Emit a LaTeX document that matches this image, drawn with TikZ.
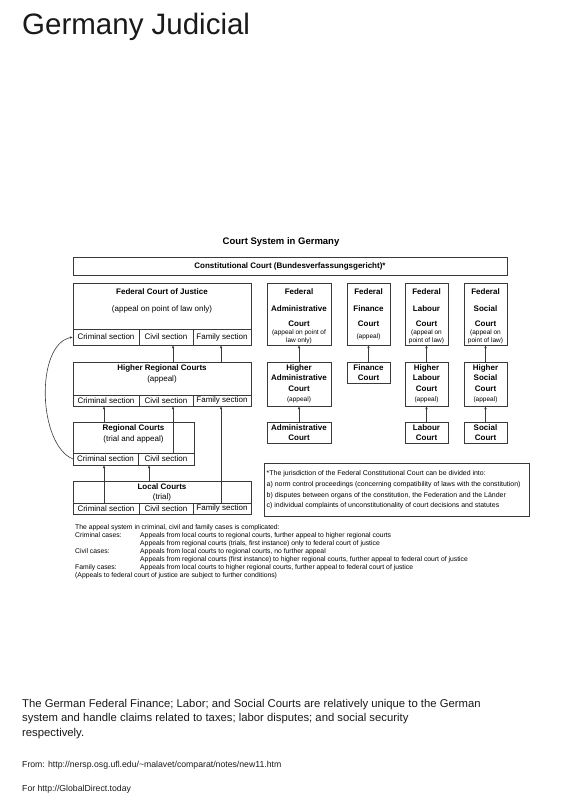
\documentclass[tikz,border=0pt]{standalone}
\usepackage{fontspec}
\setmainfont{Liberation Sans}
\usetikzlibrary{arrows.meta}
\definecolor{boxline}{HTML}{3A3A3A}
\definecolor{ink}{HTML}{1A1A1A}

\begin{document}
\begin{tikzpicture}[x=1pt,y=-1pt,
  box/.style={draw=boxline,line width=0.9pt,inner sep=0pt,outer sep=0pt,anchor=north west},
  boxt/.style={box,align=center,font=\fontsize{8}{10.5}\selectfont\bfseries},
  sect/.style={box,font=\fontsize{8}{10}\selectfont},
  lblb/.style={font=\fontsize{8}{10}\selectfont\bfseries,inner sep=0pt,text height=5.8pt,text depth=0pt},
  lbl/.style={font=\fontsize{8}{10}\selectfont,inner sep=0pt,text height=5.8pt,text depth=0pt},
  hd/.style={font=\fontsize{8}{10}\selectfont\bfseries,align=center,inner sep=0pt,anchor=north},
  hdb/.style={font=\fontsize{8}{10.5}\selectfont\bfseries,align=center,inner sep=0pt,anchor=north},
  sm/.style={font=\fontsize{6.5}{8}\selectfont,align=center,inner sep=0pt,anchor=north},
  arr/.style={-{Latex[length=3pt,width=2.4pt]},line width=0.6pt,draw=boxline}]
  \useasboundingbox[fill=white] (0,0) rectangle (565,800);

  \node[font=\fontsize{29.5}{33}\selectfont,anchor=base west,inner sep=0pt,text=ink] (title) at (22,34.5) {Germany Judicial};
  \node[font=\fontsize{9.5}{11}\selectfont\bfseries,inner sep=0pt,text height=6.8pt,text depth=0pt] (heading) at (281,241.5) {Court System in Germany};

  % constitutional court
  \node[box,font=\fontsize{8}{10}\selectfont\bfseries,minimum width=434pt,minimum height=18pt] (cc) at (73,257) {Constitutional Court (Bundesverfassungsgericht)*};

  % ordinary courts
  \node[box,minimum width=178pt,minimum height=46pt] (fcj) at (73,283) {};
  \node[sect,minimum width=66pt,minimum height=16pt] (fcjCrim) at (73,329) {Criminal section};
  \node[sect,minimum width=54pt,minimum height=16pt] (fcjCiv) at (139,329) {Civil section};
  \node[sect,minimum width=58pt,minimum height=16pt] (fcjFam) at (193,329) {Family section};
  \node[lblb] (fcjName) at (162,292) {Federal Court of Justice};
  \node[lbl] (fcjNote) at (162,309) {(appeal on point of law only)};

  \node[box,minimum width=178pt,minimum height=33pt] (hrc) at (73,362) {};
  \node[sect,minimum width=66pt,minimum height=11pt] (hrcCrim) at (73,395) {Criminal section};
  \node[sect,minimum width=54pt,minimum height=11pt] (hrcCiv) at (139,395) {Civil section};
  \node[sect,minimum width=58pt,minimum height=11pt] (hrcFam) at (193,395) {Family section};
  \node[lblb] (hrcName) at (162,367.5) {Higher Regional Courts};
  \node[lbl] (hrcNote) at (162,378.5) {(appeal)};

  \node[box,minimum width=121pt,minimum height=31pt] (rc) at (73,422) {};
  \node[sect,minimum width=65pt,minimum height=12pt] (rcCrim) at (73,453) {Criminal section};
  \node[sect,minimum width=56pt,minimum height=12pt] (rcCiv) at (138,453) {Civil section};
  \node[lblb] (rcName) at (133.5,428) {Regional Courts};
  \node[lbl] (rcNote) at (133.5,439) {(trial and appeal)};

  \node[box,minimum width=178pt,minimum height=22pt] (lc) at (73,481) {};
  \node[sect,minimum width=66pt,minimum height=11pt] (lcCrim) at (73,503) {Criminal section};
  \node[sect,minimum width=54pt,minimum height=11pt] (lcCiv) at (139,503) {Civil section};
  \node[sect,minimum width=58pt,minimum height=11pt] (lcFam) at (193,503) {Family section};
  \node[lblb] (lcName) at (162,487) {Local Courts};
  \node[lbl] (lcNote) at (162,497) {(trial)};

  \coordinate (crimX) at (104,0);
  \coordinate (civX) at (173,0);
  \coordinate (famX) at (221,0);
  \coordinate (locX) at (149,0);
  \draw[arr] (hrc.north -| civX) -- (fcjCiv.south -| civX);
  \draw[arr] (hrc.north -| famX) -- (fcjFam.south -| famX);
  \draw[arr] (rc.north -| crimX) -- (hrcCrim.south -| crimX);
  \draw[arr] (rcCiv.north -| civX) -- (hrcCiv.south -| civX);
  \draw[arr] (lcCrim.north -| crimX) -- (rcCrim.south -| crimX);
  \draw[arr] (lc.north -| locX) -- (rcCiv.south -| locX);
  \draw[arr] (lcFam.north -| famX) -- (hrcFam.south -| famX);
  \draw[arr] (rcCrim.west) .. controls (38,445) and (35,345) .. (fcjCrim.west);

  % specialised courts
  \node[box,minimum width=64pt,minimum height=62pt] (fac) at (267,283) {};
  \node[hd] (facName) at (299,288) {Federal\\[7pt]Administrative\\[5pt]Court};
  \node[sm] (facNote) at (299,329.5) {(appeal on point of\\law only)};
  \node[box,minimum width=43pt,minimum height=62pt] (ffc) at (347,283) {};
  \node[hd] (ffcName) at (368.5,288) {Federal\\[7pt]Finance\\[5pt]Court};
  \node[sm] (ffcNote) at (368.5,334) {(appeal)};
  \node[box,minimum width=43pt,minimum height=62pt] (flc) at (405,283) {};
  \node[hd] (flcName) at (426.5,288) {Federal\\[7pt]Labour\\[5pt]Court};
  \node[sm] (flcNote) at (426.5,329.5) {(appeal on\\point of law)};
  \node[box,minimum width=43pt,minimum height=62pt] (fsc) at (464,283) {};
  \node[hd] (fscName) at (485.5,288) {Federal\\[7pt]Social\\[5pt]Court};
  \node[sm] (fscNote) at (485.5,329.5) {(appeal on\\point of law)};

  \node[box,minimum width=64pt,minimum height=44pt] (hac) at (267,362) {};
  \node[hdb] (hacName) at (299,364.4) {Higher\\Administrative\\Court};
  \node[sm] (hacNote) at (299,396.5) {(appeal)};
  \node[boxt,minimum width=43pt,minimum height=21pt] (fin) at (347,362) {Finance\\Court};
  \node[box,minimum width=43pt,minimum height=44pt] (hlc) at (405,362) {};
  \node[hdb] (hlcName) at (426.5,364.4) {Higher\\Labour\\Court};
  \node[sm] (hlcNote) at (426.5,396.5) {(appeal)};
  \node[box,minimum width=43pt,minimum height=44pt] (hsc) at (464,362) {};
  \node[hdb] (hscName) at (485.5,364.4) {Higher\\Social\\Court};
  \node[sm] (hscNote) at (485.5,396.5) {(appeal)};

  \node[boxt,minimum width=64pt,minimum height=21pt] (adm) at (267,422) {Administrative\\Court};
  \node[boxt,minimum width=43pt,minimum height=21pt] (lab) at (405,422) {Labour\\Court};
  \node[boxt,minimum width=43pt,minimum height=21pt] (soc) at (464,422) {Social\\Court};

  \draw[arr] (hac.north) -- (fac.south);
  \draw[arr] (adm.north) -- (hac.south);
  \draw[arr] (fin.north) -- (ffc.south);
  \draw[arr] (hlc.north) -- (flc.south);
  \draw[arr] (lab.north) -- (hlc.south);
  \draw[arr] (hsc.north) -- (fsc.south);
  \draw[arr] (soc.north) -- (hsc.south);

  % notes
  \node[box,minimum width=265pt,minimum height=53pt] (jur) at (264,463) {};
  \node[font=\fontsize{6.95}{10.7}\selectfont,align=left,inner sep=0pt,anchor=north west] (jurText) at (266.5,470.5)
    {*The jurisdiction of the Federal Constitutional Court can be divided into:\\
     a) norm control proceedings (concerning compatibility of laws with the constitution)\\
     b) disputes between organs of the constitution, the Federation and the Länder\\
     c) individual complaints of unconstitutionality of court decisions and statutes};

  \node[font=\fontsize{6.8}{8}\selectfont,inner sep=0pt,anchor=north west] (appeal) at (75,524)
    {\begin{tabular}{@{}p{65pt}@{}l@{}}
     \multicolumn{2}{@{}l@{}}{The appeal system in criminal, civil and family cases is complicated:}\\
     Criminal cases: & Appeals from local courts to regional courts, further appeal to higher regional courts\\
      & Appeals from regional courts (trials, first instance) only to federal court of justice\\
     Civil cases: & Appeals from local courts to regional courts, no further appeal\\
      & Appeals from regional courts (first instance) to higher regional courts, further appeal to federal court of justice\\
     Family cases: & Appeals from local courts to higher regional courts, further appeal to federal court of justice\\
     \multicolumn{2}{@{}l@{}}{(Appeals to federal court of justice are subject to further conditions)}
     \end{tabular}};

  \node[font=\fontsize{11.3}{14.5}\selectfont,align=left,inner sep=0pt,anchor=north west,text=ink] (remark) at (22,699)
    {The German Federal Finance; Labor; and Social Courts are relatively unique to the German\\
     system and handle claims related to taxes; labor disputes; and social security\\
     respectively.};
  \node[font=\fontsize{8.7}{10}\selectfont,anchor=base west,inner sep=0pt,text=ink] (source) at (22,767.5)
    {From: http://nersp.osg.ufl.edu/\textasciitilde malavet/comparat/notes/new11.htm};
  \node[font=\fontsize{8.7}{10}\selectfont,anchor=base west,inner sep=0pt,text=ink] (site) at (22,791)
    {For http://GlobalDirect.today};
\end{tikzpicture}
\end{document}
